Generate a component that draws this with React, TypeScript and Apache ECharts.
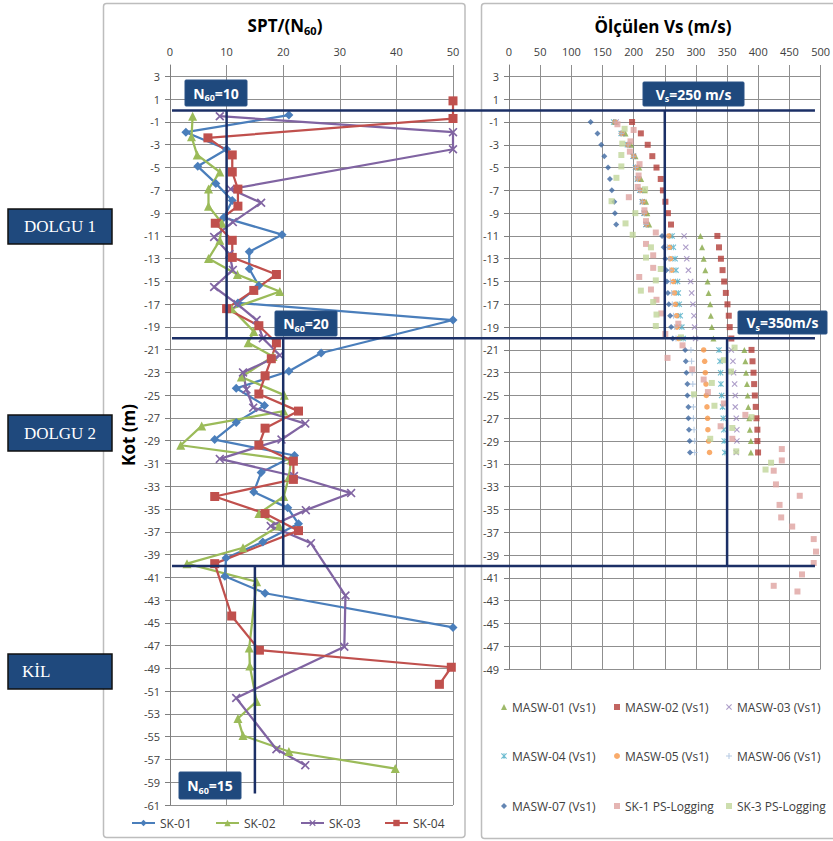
import React, { useEffect, useRef } from "react";
import * as echarts from "echarts";

// Depth values are stored in true metres; the chart plots them shifted by SHIFT so that
// odd-numbered depth ticks (-61, -59, ... 3) fall on multiples of the interval.
const SHIFT = 1;

// ---------- SPT / N60 (left chart) ----------
const SK01_DEPTH = [-0.4, -1.9, -3.4, -4.9, -6.4, -7.9, -9.4, -10.9, -12.4, -13.9, -15.4, -16.9, -18.4, -21.3, -22.9, -24.4, -25.9, -27.4, -28.9, -30.3, -31.8, -33.5, -34.9, -36.3, -37.9, -39.3, -40.9, -42.4, -45.4];
const SK01_N60 = [21, 2.8, 10, 4.9, 8.1, 11, 9.5, 19.8, 14, 14, 15.7, 12, 50, 26.7, 21, 11.7, 16.7, 11.7, 7.9, 22, 16.1, 14.8, 20.8, 22.7, 16.4, 9.9, 9.7, 16.8, 50];

const SK02_DEPTH = [-0.5, -2.3, -3.9, -5.4, -6.9, -8.4, -9.9, -11.4, -13.0, -14.4, -15.9, -17.4, -19.4, -20.4, -21.6, -23.4, -25.0, -26.4, -27.7, -29.4, -30.7, -32.2, -33.9, -35.4, -36.5, -38.4, -39.8, -41.4, -47.2, -48.8, -51.9, -53.4, -54.9, -56.3, -57.8];
const SK02_N60 = [4, 3.8, 4.8, 8.8, 6.8, 6.8, 9.2, 8.8, 6.8, 11.9, 19.4, 10.9, 14.8, 13.8, 18.2, 12.6, 20.2, 20.1, 5.6, 1.9, 21.4, 21, 20.1, 15.7, 19.3, 12.9, 3, 15.3, 14, 14.1, 15.3, 12, 12.9, 21, 39.8];

const SK03_DEPTH = [-0.5, -1.9, -3.4, -6.9, -8.1, -9.8, -11.1, -12.6, -14.0, -15.5, -17.0, -18.4, -20.0, -21.5, -23.0, -24.5, -26.1, -27.5, -28.9, -30.6, -32.1, -33.6, -35.1, -36.5, -38.0, -42.6, -47.1, -51.6, -56.1, -57.5];
const SK03_N60 = [8.8, 50, 50, 10.7, 16.1, 11.1, 7.8, 10.5, 11.1, 7.8, 11.9, 15.3, 16.4, 19.4, 12.9, 13.5, 14.7, 23.9, 19.7, 8.8, 21.9, 32, 24, 17.8, 24.9, 31, 30.8, 11.7, 18.8, 23.9];

const SK04_DEPTH = [0.85, -0.7, -2.4, -3.9, -5.4, -6.9, -8.4, -9.9, -11.4, -12.9, -14.4, -15.8, -17.4, -18.9, -20.4, -21.8, -23.3, -24.9, -26.4, -27.9, -29.4, -30.8, -32.4, -33.9, -35.4, -36.9, -39.8, -44.4, -47.4, -48.9, -50.4];
const SK04_N60 = [50, 50, 6.7, 11, 11, 12, 12, 8, 11, 11, 18.8, 14.8, 10, 15.7, 18.8, 17.9, 16.8, 15.7, 22.7, 16.8, 15.7, 21.8, 21.8, 7.9, 16.8, 22.7, 7.9, 10.9, 15.8, 49.7, 47.6];

const SPT_NAMES = ["SK-01", "SK-02", "SK-03", "SK-04"];

// N60 limit lines: value, top depth, bottom depth
const N60_LIMIT = [10, 20, 15];
const N60_TOP = [0, -20, -40];
const N60_BOTTOM = [-20, -40, -60];

// ---------- Measured Vs (right chart) ----------
const MASW_DEPTH = [-1, -2, -3, -4, -5, -6, -7, -8, -9, -10, -11, -12, -13, -14, -15, -16, -17, -18, -19, -20, -21, -22, -23, -24, -25, -26, -27, -28, -29, -30];
const MASW01 = [170, 187, 196, 203, 209, 212, 218, 220, 222, 225, 307.2, 309.8, 312.4, 315, 318.7, 320.3, 322.9, 323.9, 325.5, 328.1, 377.7, 379.3, 380.4, 381.9, 383, 384, 385.6, 386.6, 388.2, 388.2];
const MASW02 = [197.5, 211.6, 222.6, 230, 236.7, 243.5, 247, 251, 255, 260, 334.4, 337, 340.1, 342.7, 345.3, 348, 350.6, 352.7, 354.2, 356.8, 389.2, 390.8, 392.4, 393.4, 394.5, 396, 397.1, 398.6, 398.6, 399.7];
const MASW03 = [172, 182, 192, 200, 204, 207, 211, 214, 217, 220, 281, 283.7, 285.3, 287.9, 291.5, 293.1, 295.2, 296.8, 297.8, 299.4, 356.8, 359.4, 360.5, 362.1, 363.1, 363.1, 364.7, 365.7, 365.7, 364.7];
const MASW04 = [168, 180, 190, 199, 203, 206, 210, 214, 217, 220, 261.8, 263.8, 266.5, 268, 270.6, 271.7, 273.2, 274.8, 277.4, 279.5, 337, 338.6, 339.6, 340.1, 341.2, 342.7, 343.8, 344.8, 345.3, 346.4];
const MASW05 = [170, 181, 191, 200, 204, 207, 211, 215, 218, 221, 256.5, 257.6, 259.1, 261.2, 263.8, 265.4, 267, 269, 269.6, 272.2, 312.4, 314, 315, 316.1, 316.6, 317.7, 318.7, 319.2, 320.3, 321.8];
const MASW06 = [170, 180, 191, 200, 203, 206, 210, 214, 217, 220, 251, 254, 257, 258, 259, 261, 262, 264, 266, 268, 292, 293, 294, 295, 295, 296, 296, 297, 298, 298];
const MASW07 = [131, 142, 148, 153, 159, 162, 165, 169, 170, 172, 245.6, 248.2, 250.8, 252.4, 253.4, 255, 256.5, 258.6, 260.2, 262.8, 282.7, 283.7, 284.7, 286.3, 286.3, 287.9, 287.9, 288.9, 290, 290.5];

const SK1_PS_DEPTH = [-1.2, -1.7, -2.7, -3.6, -4.7, -5.7, -6.7, -7.6, -8.75, -9.7, -10.7, -11.7, -12.7, -13.8, -14.6, -15.7, -16.6, -17.8, -18.7, -19.6, -20.6, -21.7, -22.7, -23.6, -24.7, -25.7, -26.7, -27.7, -28.8, -29.7, -30.7, -31.6, -32.8, -33.8, -34.6, -35.7, -36.5, -37.6, -38.7, -39.7, -40.7, -41.7, -42.2];
const SK1_PS_VS = [174, 200, 195, 194, 209.5, 208, 206.6, 192.3, 217.3, 219.9, 235.6, 219.9, 231.4, 231.4, 209, 227.8, 236.7, 244.5, 271.7, 250.8, 278.5, 254.4, 294.1, 312.4, 319.2, 344.8, 379.3, 339.6, 358.4, 437.8, 437.8, 424.8, 428.4, 466.6, 434.2, 436.8, 454.5, 489, 492.7, 489, 470.2, 424.8, 462.9];

const SK3_PS_DEPTH = [-1.6, -2.9, -3.9, -4.9, -5.9, -6.9, -7.95, -9.0, -9.9, -10.9, -12.0, -12.9, -13.9, -14.9, -15.8, -16.8, -17.9, -18.9, -19.9, -20.8, -21.9, -22.9, -23.9, -24.9, -25.9, -26.9, -27.85, -28.8, -29.9, -30.9, -31.5];
const SK3_PS_VS = [185.5, 181.8, 180.3, 180.3, 172.4, 218.4, 164.6, 202.7, 187, 198.5, 227.8, 219.9, 243.5, 235.6, 211.6, 231.4, 236.7, 235.6, 275.9, 362, 344.8, 356.3, 325.5, 296.8, 329.7, 389.2, 358.4, 322.9, 364.7, 420.6, 411.7];

const VS_NAMES = [
  "MASW-01 (Vs1)", "MASW-02 (Vs1)", "MASW-03 (Vs1)",
  "MASW-04 (Vs1)", "MASW-05 (Vs1)", "MASW-06 (Vs1)",
  "MASW-07 (Vs1)", "SK-1 PS-Logging", "SK-3 PS-Logging",
];

// Vs limit lines
const VS_LIMIT = [250, 350];
const VS_TOP = [0, -20];
const VS_BOTTOM = [-20, -40];

// layer boundaries drawn across both panels
const LAYER_BOUNDS = [0, -20, -40];

// ---------- styles ----------
const FONT = "'Open Sans', 'Noto Sans', sans-serif";
const NAVY = "#1B2F66";
const BOX = "#1F497D";
const GRIDC = "#8F8F8F";
const LABELC = "#404040";

const X_SYM = "path://M0,1.3L1.3,0L5,3.7L8.7,0L10,1.3L6.3,5L10,8.7L8.7,10L5,6.3L1.3,10L0,8.7L3.7,5Z";
const PLUS_SYM = "path://M4.1,0H5.9V4.1H10V5.9H5.9V10H4.1V5.9H0V4.1H4.1Z";
const STAR_SYM = "path://M0,1.3L1.3,0L5,3.7L8.7,0L10,1.3L6.3,5L10,8.7L8.7,10L5,6.3L1.3,10L0,8.7L3.7,5Z M4.3,0L5.7,0L5.7,10L4.3,10Z";

const zip = (xs: number[], ds: number[]) => xs.map((x, i) => [x, ds[i] + SHIFT]);

function buildOption(): any {
  const depthLabel = (v: number) => String(v - SHIFT);
  const yCommon = {
    type: "value",
    interval: 2,
    max: 4 + SHIFT,
    axisLine: { show: true, lineStyle: { color: "#7F7F7F", width: 1 } },
    axisTick: { show: true, length: 5, lineStyle: { color: "#7F7F7F" } },
    axisLabel: { formatter: depthLabel, showMaxLabel: false, margin: 10, fontSize: 11, color: LABELC, fontFamily: FONT },
    splitLine: { show: true, showMaxLine: false, lineStyle: { color: GRIDC, width: 1 } },
  };
  const xCommon = {
    type: "value",
    position: "top",
    axisLine: { show: false },
    axisTick: { show: false },
    axisLabel: { margin: 8, fontSize: 11, color: LABELC, fontFamily: FONT },
    splitLine: { show: true, lineStyle: { color: GRIDC, width: 1 } },
  };

  const sptSpecs = [
    { name: "SK-01", x: SK01_N60, d: SK01_DEPTH, color: "#4A7EBB", symbol: "diamond", size: 9 },
    { name: "SK-02", x: SK02_N60, d: SK02_DEPTH, color: "#9BBB59", symbol: "triangle", size: 9 },
    { name: "SK-03", x: SK03_N60, d: SK03_DEPTH, color: "#8064A2", symbol: X_SYM, size: 9 },
    { name: "SK-04", x: SK04_N60, d: SK04_DEPTH, color: "#C0504D", symbol: "rect", size: 9 },
  ];
  const sptSeries = sptSpecs.map((s) => ({
    name: s.name,
    type: "line",
    xAxisIndex: 0,
    yAxisIndex: 0,
    data: zip(s.x, s.d),
    symbol: s.symbol,
    symbolSize: s.size,
    showAllSymbol: true,
    color: s.color,
    itemStyle: { color: s.color },
    lineStyle: { color: s.color, width: 2.25 },
    z: 2,
  }));

  const n60Lines = N60_LIMIT.map((v, i) => ({
    type: "line",
    xAxisIndex: 0,
    yAxisIndex: 0,
    data: [[v, N60_TOP[i] + SHIFT], [v, N60_BOTTOM[i] + SHIFT]],
    symbol: "none",
    lineStyle: { color: NAVY, width: 2.5 },
    silent: true,
    z: 5,
  }));
  const vsLines = VS_LIMIT.map((v, i) => ({
    type: "line",
    xAxisIndex: 1,
    yAxisIndex: 1,
    data: [[v, VS_TOP[i] + SHIFT], [v, VS_BOTTOM[i] + SHIFT]],
    symbol: "none",
    lineStyle: { color: NAVY, width: 2.5 },
    silent: true,
    z: 5,
  }));

  const vsSpecs = [
    { name: VS_NAMES[0], x: MASW01, d: MASW_DEPTH, color: "#86A845", symbol: "triangle", size: 6 },
    { name: VS_NAMES[1], x: MASW02, d: MASW_DEPTH, color: "#B33E3A", symbol: "rect", size: 6 },
    { name: VS_NAMES[2], x: MASW03, d: MASW_DEPTH, color: "#9984BC", symbol: X_SYM, size: 6 },
    { name: VS_NAMES[3], x: MASW04, d: MASW_DEPTH, color: "#4BACC6", symbol: STAR_SYM, size: 6 },
    { name: VS_NAMES[4], x: MASW05, d: MASW_DEPTH, color: "#F79646", symbol: "circle", size: 5.5 },
    { name: VS_NAMES[5], x: MASW06, d: MASW_DEPTH, color: "#A5BEDC", symbol: PLUS_SYM, size: 6 },
    { name: VS_NAMES[6], x: MASW07, d: MASW_DEPTH, color: "#3D68A0", symbol: "diamond", size: 6 },
    { name: VS_NAMES[7], x: SK1_PS_VS, d: SK1_PS_DEPTH, color: "#DFA2A0", symbol: "rect", size: 6 },
    { name: VS_NAMES[8], x: SK3_PS_VS, d: SK3_PS_DEPTH, color: "#C0D69A", symbol: "rect", size: 6 },
  ];
  const vsSeries = vsSpecs.map((s) => ({
    name: s.name,
    type: "scatter",
    xAxisIndex: 1,
    yAxisIndex: 1,
    data: zip(s.x, s.d),
    symbol: s.symbol,
    symbolSize: s.size,
    itemStyle: { color: s.color },
    z: 2,
  }));

  const textStyle = { fontSize: 12, color: LABELC, fontFamily: FONT };
  const leftLegendX = [131, 215, 300, 384];
  const rightLegendX = [501, 614, 726];
  const rightLegendY = [701, 750, 800];

  const legends = [
    ...SPT_NAMES.map((n, i) => ({
      data: [n],
      left: leftLegendX[i],
      top: 817,
      padding: 0,
      itemWidth: 23,
      itemHeight: 8,
      selectedMode: false,
      textStyle,
    })),
    ...VS_NAMES.map((n, i) => ({
      data: [n],
      left: rightLegendX[i % 3],
      top: rightLegendY[Math.floor(i / 3)],
      padding: 0,
      itemWidth: 6,
      itemHeight: 6,
      itemGap: 0,
      selectedMode: false,
      textStyle,
    })),
  ];

  return {
    animation: false,
    backgroundColor: "#ffffff",
    textStyle: { fontFamily: FONT },
    grid: [
      { left: 170, top: 65, width: 283, height: 740 },
      { left: 509, top: 65, width: 319, height: 604 },
    ],
    xAxis: [
      { ...xCommon, gridIndex: 0, min: 0, max: 50, interval: 10 },
      { ...xCommon, gridIndex: 1, min: 0, max: 500, interval: 50 },
    ],
    yAxis: [
      {
        ...yCommon,
        gridIndex: 0,
        min: -61 + SHIFT,
        name: "Kot (m)",
        nameLocation: "middle",
        nameGap: 33,
        nameTextStyle: { fontSize: 17, fontWeight: "bold", color: "#000", fontFamily: FONT },
      },
      { ...yCommon, gridIndex: 1, min: -49 + SHIFT },
    ],
    legend: legends,
    series: [...sptSeries, ...n60Lines, ...vsSeries, ...vsLines],
  };
}

function labelBox(x: number, y: number, w: number, h: number, text: string, rich: any) {
  return [
    { type: "rect", z: 100, silent: true, shape: { x, y, width: w, height: h, r: 1 }, style: { fill: BOX, stroke: "#2A5286", lineWidth: 1 } },
    {
      type: "text", z: 101, silent: true, x: x + w / 2, y: y + h / 2,
      style: { text, rich, align: "center", verticalAlign: "middle" },
    },
  ];
}

export default function App() {
  const ref = useRef<HTMLDivElement>(null);
  useEffect(() => {
    const el = ref.current!;
    const chart = echarts.init(el, undefined, { renderer: "svg" });
    chart.setOption(buildOption());

    const px = (g: number, x: number, d: number) =>
      chart.convertToPixel({ gridIndex: g } as any, [x, d + SHIFT]) as unknown as number[];

    const nRich = {
      a: { fontSize: 14, fontWeight: "bold", fill: "#fff", fontFamily: FONT, lineHeight: 18 },
      b: { fontSize: 9, fontWeight: "bold", fill: "#fff", fontFamily: FONT, lineHeight: 10, verticalAlign: "bottom" },
    };
    const titleRich = {
      a: { fontSize: 17, fontWeight: "bold", fill: "#000", fontFamily: FONT, lineHeight: 22 },
      b: { fontSize: 11, fontWeight: "bold", fill: "#000", fontFamily: FONT, lineHeight: 12, verticalAlign: "bottom" },
    };
    const serif = { fontSize: 17, fill: "#fff", fontFamily: "'Liberation Serif', 'DejaVu Serif', serif" };

    const graphics: any[] = [
      // panel frames
      { type: "rect", z: -10, silent: true, shape: { x: 103.5, y: 3.5, width: 361.5, height: 834, r: 3 }, style: { fill: "none", stroke: "#BDBDBD", lineWidth: 1.5 } },
      { type: "rect", z: -10, silent: true, shape: { x: 481.5, y: 3.5, width: 400, height: 835, r: 3 }, style: { fill: "none", stroke: "#BDBDBD", lineWidth: 1.5 } },
      // titles
      { type: "text", silent: true, x: 285, y: 25, style: { text: "{a|SPT/(N}{b|60}{a|)}", rich: titleRich, align: "center", verticalAlign: "middle" } },
      { type: "text", silent: true, x: 663, y: 26, style: { text: "Ölçülen Vs (m/s)", fontSize: 17, fontWeight: "bold", fill: "#000", fontFamily: FONT, align: "center", verticalAlign: "middle" } },
    ];

    LAYER_BOUNDS.forEach((d) => {
      const a = px(0, 0, d);
      const b = px(1, 491, d);
      graphics.push({
        type: "line", z: 50, silent: true,
        shape: { x1: a[0] + 2, y1: a[1], x2: b[0], y2: a[1] },
        style: { stroke: NAVY, lineWidth: 2.5 },
      });
    });

    graphics.push(
      ...labelBox(185, 80, 62, 26, "{a|N}{b|60}{a|=10}", nRich),
      ...labelBox(275, 311, 62, 25, "{a|N}{b|60}{a|=20}", nRich),
      ...labelBox(179, 772, 62, 27, "{a|N}{b|60}{a|=15}", nRich),
      ...labelBox(643, 82, 101, 24, "{a|V}{b|s}{a|=250 m/s}", nRich),
      ...labelBox(738, 311, 89, 23, "{a|V}{b|s}{a|=350m/s}", nRich),
    );

    const sideBoxes = [
      { y: 209, h: 35, text: "DOLGU 1", center: true },
      { y: 415, h: 36, text: "DOLGU 2", center: true },
      { y: 654, h: 35, text: "KİL", center: false },
    ];
    sideBoxes.forEach((s) => {
      graphics.push({ type: "rect", z: 100, silent: true, shape: { x: 8, y: s.y, width: 104, height: s.h }, style: { fill: BOX, stroke: "#111", lineWidth: 1.5 } });
      graphics.push({
        type: "text", z: 101, silent: true,
        x: s.center ? 60 : 22, y: s.y + s.h / 2,
        style: { text: s.text, ...serif, align: s.center ? "center" : "left", verticalAlign: "middle" },
      });
    });

    chart.setOption({ graphic: graphics });
    return () => chart.dispose();
  }, []);

  return (
    <div
      ref={ref}
      style={{ position: "fixed", left: 0, top: 0, width: 833, height: 841, background: "#fff" }}
    />
  );
}
